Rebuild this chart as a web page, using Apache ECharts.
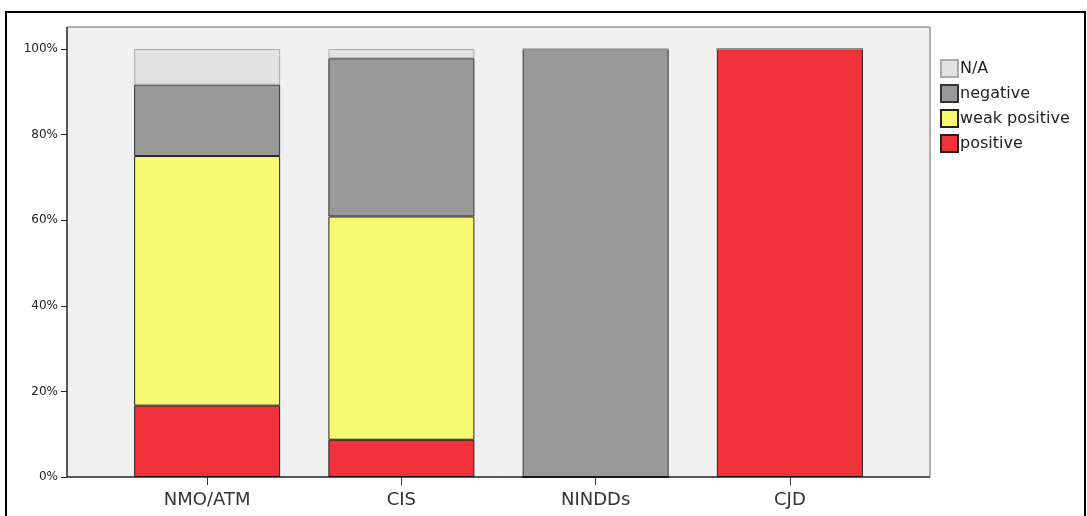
<!DOCTYPE html>
<html>
<head>
<meta charset="utf-8">
<script src="https://cdn.jsdelivr.net/npm/echarts@6/dist/echarts.min.js"></script>
<style>
html,body{margin:0;padding:0;background:#fff;}
#chart{width:1087px;height:516px;}
</style>
</head>
<body>
<div id="chart"></div>
<script>
const categories = ['NMO/ATM', 'CIS', 'NINDDs', 'CJD'];
const positive = [16.67, 8.70, 0, 100];
const weakPositive = [58.33, 52.17, 0, 0];
const negative = [16.67, 36.96, 100, 0];
const notAvailable = [8.33, 2.17, 0, 0];
const yTicks = [0, 20, 40, 60, 80, 100];

const FONT = '"DejaVu Sans", sans-serif';
const chart = echarts.init(document.getElementById('chart'));

function bar(name, data, color, border) {
  return {
    name: name, type: 'bar', stack: 'total', data: data,
    barWidth: 146,
    itemStyle: { color: color, borderColor: border, borderWidth: 1 },
    emphasis: { disabled: true }
  };
}

chart.setOption({
  animation: false,
  graphic: [
    { type: 'rect', z: -10, shape: { x: 6, y: 12, width: 1079, height: 520 },
      style: { fill: '#fff', stroke: '#000', lineWidth: 2 } },
    { type: 'rect', z: -5, shape: { x: 67, y: 27, width: 863, height: 450 },
      style: { fill: '#f0f0f0', stroke: '#666', lineWidth: 1 } },
    { type: 'line', z: 10, shape: { x1: 67, y1: 477, x2: 930, y2: 477 },
      style: { stroke: '#000', lineWidth: 1 } },
    { type: 'line', z: 10, shape: { x1: 67, y1: 27, x2: 67, y2: 477 },
      style: { stroke: '#000', lineWidth: 1 } }
  ],
  grid: { left: 110, right: 200, top: 49, bottom: 39 },
  legend: {
    orient: 'vertical', left: 940, top: 59, padding: 0,
    itemWidth: 17, itemHeight: 17, itemGap: 6,
    icon: 'rect',
    data: ['N/A', 'negative', 'weak positive', 'positive'],
    textStyle: { fontFamily: FONT, fontSize: 16, color: '#222', padding: [0, 0, 0, -3] }
  },
  xAxis: {
    type: 'category', data: categories,
    axisLine: { show: false },
    axisTick: { show: true, alignWithLabel: true, length: 8, lineStyle: { color: '#333' } },
    axisLabel: { fontFamily: FONT, fontSize: 18, color: '#333', margin: 14 }
  },
  yAxis: {
    type: 'value', min: 0, max: 100, interval: 20, offset: 43,
    axisLine: { show: false },
    axisTick: { show: true, length: 6, lineStyle: { color: '#222' } },
    splitLine: { show: false },
    axisLabel: { fontFamily: FONT, fontSize: 12, color: '#222', margin: 9,
      formatter: function (v) { return yTicks.indexOf(v) >= 0 ? v + '%' : ''; } }
  },
  series: [
    bar('positive', positive, '#f0323a', '#222'),
    bar('weak positive', weakPositive, '#f9f871', '#222'),
    bar('negative', negative, '#999999', '#333'),
    bar('N/A', notAvailable, '#e2e2e2', '#aaa')
  ]
});
</script>
</body>
</html>
